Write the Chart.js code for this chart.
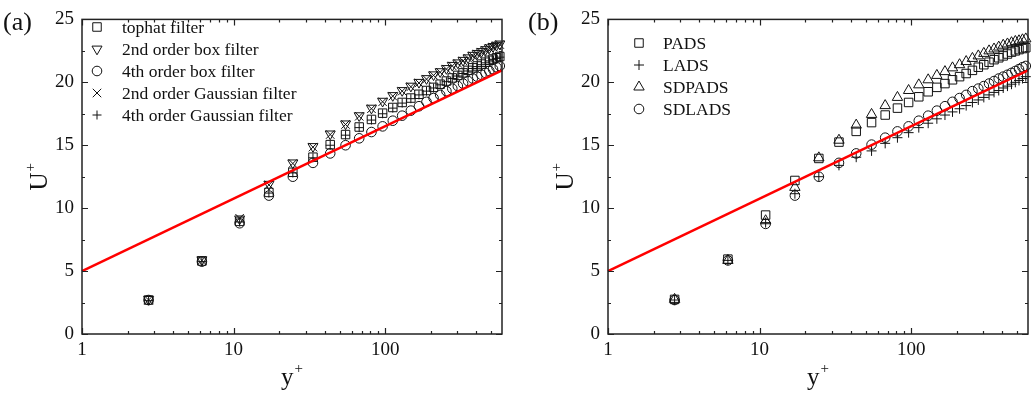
<!DOCTYPE html>
<html>
<head>
<meta charset="utf-8">
<script src="https://cdn.jsdelivr.net/npm/chart.js@4.4.1/dist/chart.umd.min.js"></script>
<style>
  html, body { margin: 0; padding: 0; background: #fff; }
  #wrap { position: relative; width: 1035px; height: 398px; }
  canvas { position: absolute; top: 0; }
  #left { left: 0; }
  #right { left: 517px; }
</style>
</head>
<body>
<div id="wrap">
  <canvas id="left" width="517" height="398"></canvas>
  <canvas id="right" width="518" height="398"></canvas>
</div>
<script>
// wall distance of the sample points (y+)
const yPlus = [2.75, 6.18, 10.96, 17.1, 24.6, 33.4, 43.4, 54.8, 67.4, 81.2, 96.2, 112.3, 129.5, 147.8, 167.1,
  187.4, 208.6, 230.6, 253.6, 277.3, 301.6, 326.6, 352.2, 378.3, 404.9, 431.9, 459.3, 486.8, 514.6, 542.5, 570.5];

// panel (a)
const tophat = [2.7, 5.8, 8.95, 11.25, 12.85, 14.05, 15.05, 15.85, 16.45, 17.05, 17.55, 18.0, 18.4, 18.75, 19.05,
  19.35, 19.6, 19.85, 20.1, 20.35, 20.55, 20.75, 20.95, 21.15, 21.3, 21.45, 21.6, 21.75, 21.85, 21.95, 22.05];
const box2 = [2.75, 5.9, 9.15, 11.9, 13.6, 14.9, 15.9, 16.7, 17.35, 17.95, 18.5, 18.95, 19.35, 19.7, 20.0,
  20.3, 20.6, 20.85, 21.1, 21.35, 21.55, 21.75, 21.95, 22.15, 22.3, 22.45, 22.6, 22.75, 22.85, 22.95, 23.05];
const box4 = [2.7, 5.75, 8.8, 11.0, 12.5, 13.6, 14.35, 15.0, 15.55, 16.05, 16.5, 16.95, 17.35, 17.75, 18.1,
  18.45, 18.75, 19.0, 19.3, 19.5, 19.7, 19.9, 20.1, 20.3, 20.45, 20.6, 20.75, 20.9, 21.05, 21.2, 21.3];
const gauss2 = [2.7, 5.85, 9.2, 11.85, 13.55, 14.85, 15.85, 16.65, 17.3, 17.9, 18.45, 18.9, 19.3, 19.65, 19.95,
  20.25, 20.55, 20.8, 21.05, 21.3, 21.5, 21.7, 21.9, 22.1, 22.25, 22.4, 22.55, 22.7, 22.8, 22.9, 23.0];
const gauss4 = [2.65, 5.75, 8.9, 11.2, 12.8, 14.0, 15.0, 15.8, 16.4, 17.0, 17.5, 17.95, 18.35, 18.7, 19.0,
  19.3, 19.55, 19.8, 20.05, 20.3, 20.5, 20.7, 20.9, 21.1, 21.25, 21.4, 21.55, 21.7, 21.8, 21.9, 22.0];

// panel (b)
const pads = [2.75, 5.95, 9.45, 12.2, 13.95, 15.25, 16.1, 16.8, 17.4, 17.95, 18.4, 18.85, 19.25, 19.6, 19.9,
  20.2, 20.45, 20.7, 20.95, 21.2, 21.4, 21.6, 21.8, 21.95, 22.1, 22.25, 22.4, 22.5, 22.6, 22.68, 22.75];
const lads = [2.7, 5.85, 8.85, 11.15, 12.5, 13.4, 14.05, 14.55, 15.15, 15.6, 16.0, 16.4, 16.75, 17.1, 17.4,
  17.65, 17.9, 18.15, 18.4, 18.6, 18.8, 19.0, 19.2, 19.35, 19.55, 19.7, 19.85, 20.0, 20.15, 20.3, 20.45];
const sdpads = [2.75, 5.85, 9.0, 11.65, 14.0, 15.4, 16.6, 17.45, 18.15, 18.8, 19.35, 19.8, 20.2, 20.55, 20.85,
  21.15, 21.4, 21.65, 21.9, 22.1, 22.3, 22.5, 22.65, 22.8, 22.95, 23.05, 23.15, 23.25, 23.3, 23.38, 23.45];
const sdlads = [2.7, 5.85, 8.75, 11.0, 12.5, 13.6, 14.35, 15.05, 15.6, 16.1, 16.5, 16.95, 17.35, 17.75, 18.1,
  18.45, 18.75, 19.0, 19.3, 19.5, 19.7, 19.9, 20.1, 20.3, 20.45, 20.6, 20.75, 20.9, 21.05, 21.2, 21.3];

// log law U+ = 2.5 ln y+ + 5
const lawX = [1, 590];
const lawU = [5.0, 20.95];

// axis ticks
const xMajor = [1, 10, 100];
const xMinor = [2, 3, 4, 5, 6, 7, 8, 9, 20, 30, 40, 50, 60, 70, 80, 90, 200, 300, 400, 500];
const yMajor = [0, 5, 10, 15, 20, 25];
const yMinor = [2.5, 7.5, 12.5, 17.5, 22.5];

const SERIF = '"Liberation Serif", "Times New Roman", serif';

function pts(xs, ys) {
    return xs.map((x, i) => ({ x: x, y: ys[i] }));
}

function markerSet(label, values, style, radius, rotation) {
    return {
        label: label,
        data: pts(yPlus, values),
        showLine: false,
        pointStyle: style,
        pointRadius: radius,
        pointRotation: rotation || 0,
        pointBorderColor: '#111',
        pointBackgroundColor: 'rgba(0,0,0,0)',
        pointBorderWidth: 1,
        clip: false
    };
}

function lawSet() {
    return {
        label: 'log law',
        data: pts(lawX, lawU),
        showLine: true,
        borderColor: '#ff0000',
        borderWidth: 2.5,
        pointRadius: 0,
        clip: false,
        noLegend: true
    };
}

function drawSup(ctx, base, sup, x, y, size) {
    ctx.font = size + 'px ' + SERIF;
    ctx.fillText(base, x, y);
    const w = ctx.measureText(base).width;
    ctx.font = Math.round(size * 0.6) + 'px ' + SERIF;
    ctx.fillText(sup, x + w + 1, y - size * 0.5);
}

function supWidth(ctx, base, sup, size) {
    ctx.font = size + 'px ' + SERIF;
    const w = ctx.measureText(base).width;
    ctx.font = Math.round(size * 0.6) + 'px ' + SERIF;
    return w + 1 + ctx.measureText(sup).width;
}

// frame, inward ticks, titles and legend
const decor = {
    id: 'decor',
    afterDraw(chart, args, o) {
        const ctx = chart.ctx;
        const a = chart.chartArea;
        const xs = chart.scales.x, ys = chart.scales.y;
        ctx.save();
        ctx.strokeStyle = '#222';
        ctx.lineWidth = 1.2;
        ctx.beginPath();
        const xt = (v, len) => {
            const p = Math.round(xs.getPixelForValue(v)) + 0.5;
            ctx.moveTo(p, a.bottom); ctx.lineTo(p, a.bottom - len);
            ctx.moveTo(p, a.top); ctx.lineTo(p, a.top + len);
        };
        const yt = (v, len) => {
            const p = Math.round(ys.getPixelForValue(v)) + 0.5;
            ctx.moveTo(a.left, p); ctx.lineTo(a.left + len, p);
            ctx.moveTo(a.right, p); ctx.lineTo(a.right - len, p);
        };
        xMajor.forEach(v => xt(v, 6));
        xMinor.forEach(v => xt(v, 3));
        yMajor.forEach(v => yt(v, 6));
        yMinor.forEach(v => yt(v, 3));
        ctx.stroke();
        ctx.lineWidth = 1.5;
        ctx.strokeRect(a.left, a.top, a.right - a.left, a.bottom - a.top);

        ctx.fillStyle = '#111';
        ctx.textBaseline = 'alphabetic';
        ctx.textAlign = 'left';
        ctx.font = '26px ' + SERIF;
        ctx.fillText(o.panel, o.panelX, 30);

        // x title
        const cx = (a.left + a.right) / 2;
        const wx = supWidth(ctx, 'y', '+', 25);
        drawSup(ctx, 'y', '+', cx - wx / 2, 385, 25);

        // y title
        ctx.save();
        ctx.translate(o.yTitleX, (a.top + a.bottom) / 2);
        ctx.rotate(-Math.PI / 2);
        const wy = supWidth(ctx, 'U', '+', 25);
        drawSup(ctx, 'U', '+', -wy / 2, 0, 25);
        ctx.restore();

        // legend
        ctx.font = '17.5px ' + SERIF;
        ctx.textBaseline = 'middle';
        let row = 0;
        chart.data.datasets.forEach(ds => {
            if (ds.noLegend) return;
            const y = o.legendY + row * 22;
            ctx.strokeStyle = '#111';
            ctx.fillStyle = 'rgba(0,0,0,0)';
            ctx.lineWidth = 1;
            Chart.helpers.drawPoint(ctx, {
                pointStyle: ds.pointStyle,
                rotation: ds.pointRotation,
                radius: ds.pointRadius,
                borderWidth: 1
            }, o.legendX, y);
            ctx.fillStyle = '#111';
            ctx.fillText(ds.label, o.legendTextX, y + 1);
            row++;
        });
        ctx.restore();
    }
};

function makeChart(id, datasets, pad, deco) {
    return new Chart(document.getElementById(id), {
        type: 'scatter',
        data: { datasets: datasets },
        options: {
            responsive: false,
            animation: false,
            layout: { padding: pad },
            plugins: {
                legend: { display: false },
                tooltip: { enabled: false },
                decor: deco
            },
            scales: {
                x: {
                    type: 'logarithmic',
                    min: 1,
                    max: 590,
                    border: { display: false },
                    grid: { display: false, drawTicks: false },
                    afterFit: s => { s.height = 40; },
                    ticks: {
                        autoSkip: false,
                        maxRotation: 0,
                        padding: 5,
                        color: '#111',
                        font: { family: SERIF, size: 19 },
                        callback: v => (xMajor.includes(v) ? String(v) : '')
                    }
                },
                y: {
                    min: 0,
                    max: 25,
                    border: { display: false },
                    grid: { display: false, drawTicks: false },
                    afterFit: s => { s.width = 40; },
                    ticks: {
                        stepSize: 5,
                        padding: 8,
                        color: '#111',
                        font: { family: SERIF, size: 19 }
                    }
                }
            }
        },
        plugins: [decor]
    });
}

makeChart('left', [
    lawSet(),
    markerSet('tophat filter', tophat, 'rect', 6),
    markerSet('2nd order box filter', box2, 'triangle', 5.8, 180),
    markerSet('4th order box filter', box4, 'circle', 4.8),
    markerSet('2nd order Gaussian filter', gauss2, 'crossRot', 6),
    markerSet('4th order Gaussian filter', gauss4, 'cross', 4.5)
], { left: 42, right: 15, top: 12, bottom: 24 },
{ panel: '(a)', panelX: 3, yTitleX: 47, legendX: 97, legendTextX: 122, legendY: 27 });

makeChart('right', [
    lawSet(),
    markerSet('PADS', pads, 'rect', 6),
    markerSet('LADS', lads, 'cross', 5),
    markerSet('SDPADS', sdpads, 'triangle', 6),
    markerSet('SDLADS', sdlads, 'circle', 4.8)
], { left: 51, right: 6, top: 12, bottom: 24 },
{ panel: '(b)', panelX: 11, yTitleX: 56, legendX: 122, legendTextX: 146, legendY: 43 });
</script>
</body>
</html>
